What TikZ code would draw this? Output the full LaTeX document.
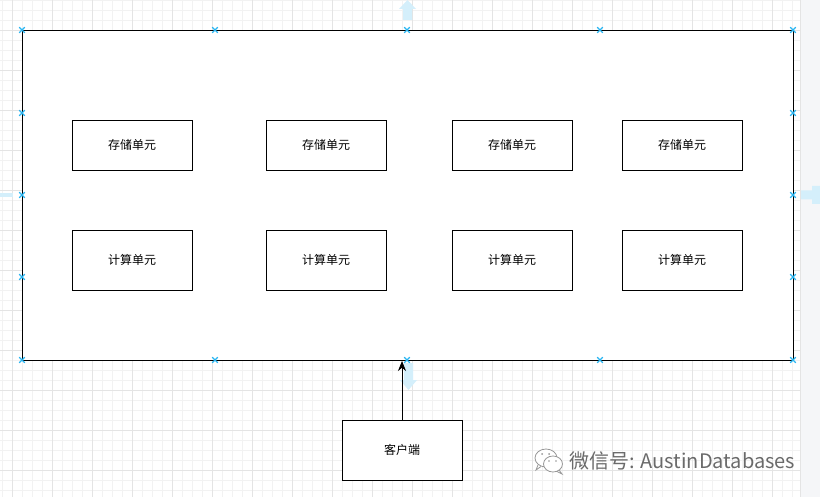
\documentclass[tikz,border=0pt]{standalone}
\usepackage{fontspec}
\newfontfamily\cjk{Noto Sans CJK SC}
\usetikzlibrary{arrows.meta,calc}
\definecolor{gridminor}{HTML}{F2F2F2}
\definecolor{gridmajor}{HTML}{E4E4E4}
\definecolor{handle}{HTML}{29B6F2}
\definecolor{hint}{HTML}{D4EFFB}
\definecolor{panel}{HTML}{F5F6F8}
\definecolor{wm}{HTML}{6A6A6A}
\tikzset{
  unitbox/.style={draw=black, line width=0.9pt, fill=white, minimum width=120pt, minimum height=50pt, inner sep=0pt, font=\cjk\fontsize{12}{14}\selectfont},
  tallbox/.style={unitbox, minimum height=60pt},
  hmark/.style={draw=handle, line width=1.2pt},
}
\newcommand{\hdl}[1]{\draw[hmark] ($#1+(-2.8,-2.8)$) -- ($#1+(2.8,2.8)$) ($#1+(-2.8,2.8)$) -- ($#1+(2.8,-2.8)$);}
\begin{document}
\begin{tikzpicture}[x=1pt,y=-1pt]
\useasboundingbox (0,0) rectangle (820,497);
\fill[white] (0,0) rectangle (820,497);
% grid
\foreach \x in {2,12,...,800} \draw[gridminor, line width=0.8pt] (\x,0) -- (\x,497);
\foreach \y in {0,10,...,497} \draw[gridminor, line width=0.8pt] (0,\y) -- (800,\y);
\foreach \x in {12,52,...,800} \draw[gridmajor, line width=0.8pt] (\x,0) -- (\x,497);
\foreach \y in {30,70,...,497} \draw[gridmajor, line width=0.8pt] (0,\y) -- (800,\y);
% right panel
\fill[panel] (800,0) rectangle (820,497);
\draw[gridmajor, line width=1pt] (800,0) -- (800,497);
% hint arrows
\fill[hint] (403,20) -- (403,9) -- (399,9) -- (407.5,0) -- (416,9) -- (412,9) -- (412,20) -- cycle;
\fill[hint] (0,193) rectangle (13,197);
\fill[hint] (801,190.5) -- (812,190.5) -- (812,186) -- (820,186) -- (820,204) -- (812,204) -- (812,199.5) -- (801,199.5) -- cycle;
\fill[hint] (404,363) -- (413,363) -- (413,380) -- (417,380) -- (408.5,390) -- (400,380) -- (404,380) -- cycle;
% container
\node[draw=black, line width=0.9pt, fill=white, minimum width=771pt, minimum height=330pt, inner sep=0pt] (frame) at (407.5,195) {};
% boxes
\node[unitbox] (s1) at (132,145) {存储单元};
\node[unitbox] (s2) at (326,145) {存储单元};
\node[unitbox] (s3) at (512,145) {存储单元};
\node[unitbox] (s4) at (682,145) {存储单元};
\node[tallbox] (c1) at (132,260) {计算单元};
\node[tallbox] (c2) at (326,260) {计算单元};
\node[tallbox] (c3) at (512,260) {计算单元};
\node[tallbox] (c4) at (682,260) {计算单元};
\node[tallbox] (client) at (402,450) {客户端};
\coordinate (tgt) at (402,361);
\draw[line width=0.9pt, -{Stealth[length=10pt,width=8pt]}] (client.north) -- (tgt);
% handles
\foreach \x in {22,215,407,600,793} {\hdl{(\x,30)} \hdl{(\x,360)}}
\foreach \y in {113,195,277} {\hdl{(22,\y)} \hdl{(793,\y)}}
% watermark icon
\draw[wm!70, line width=0.8pt, fill=white] (546,458) ellipse (11pt and 9pt);
\draw[wm!70, line width=0.8pt] (538,465) -- (536,470) -- (541,466.5);
\draw[wm!70, line width=0.8pt, fill=white] (553,464) ellipse (9.5pt and 8pt);
\draw[wm!70, line width=0.8pt] (559,470) -- (562,474) -- (557,471.5);
\fill[wm!70] (542,454) circle (1pt) (549,454) circle (1pt) (549,461) circle (0.9pt) (556,461) circle (0.9pt);
\node[anchor=west, inner sep=0pt, text=wm, font=\cjk\fontsize{20}{23}\selectfont] (wmtext) at (569,461) {微信号: AustinDatabases};
\end{tikzpicture}
\end{document}
